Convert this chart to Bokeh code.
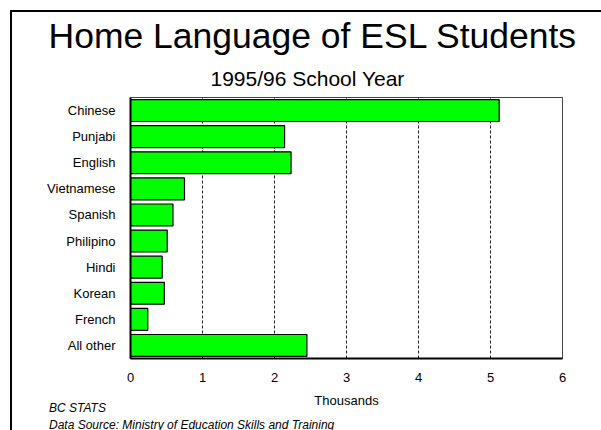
from bokeh.plotting import figure
from bokeh.layouts import column
from bokeh.models import FactorRange, Range1d, FixedTicker, Title, Div, ColumnDataSource
from bokeh.embed import file_html
from bokeh.resources import INLINE

languages = ["Chinese", "Punjabi", "English", "Vietnamese", "Spanish",
             "Philipino", "Hindi", "Korean", "French", "All other"]
thousands = [5.12, 2.14, 2.23, 0.75, 0.59, 0.51, 0.44, 0.47, 0.24, 2.45]
x_ticks = [0, 1, 2, 3, 4, 5, 6]
notes = ["BC STATS", "Data Source: Ministry of Education Skills and Training"]

FONT = "Liberation Sans"
W, H = 585, 398
BL = 118  # frame left offset inside canvas
FRAME_W = 432

src = ColumnDataSource(dict(lang=languages, val=thousands))

p = figure(width=W, height=H, output_backend="svg", toolbar_location=None,
           y_range=FactorRange(*reversed(languages), range_padding=0),
           x_range=Range1d(0, 6),
           min_border_left=BL, min_border_right=W - BL - FRAME_W,
           min_border_top=85, min_border_bottom=51)

p.hbar(y="lang", right="val", left=0, height=0.84, source=src,
       fill_color="#00ff00", line_color="black", line_width=1.2)

p.outline_line_color = "#444444"
p.outline_line_width = 1

p.xaxis.ticker = FixedTicker(ticks=x_ticks)
p.xaxis.major_tick_line_color = None
p.xaxis.minor_tick_line_color = None
p.xaxis.axis_line_color = "black"
p.xaxis.axis_line_width = 2
p.xaxis.major_label_text_font = FONT
p.xaxis.major_label_text_font_size = "13px"
p.xaxis.major_label_text_color = "black"
p.xaxis.major_label_standoff = 8
p.xaxis.axis_label = "Thousands"
p.xaxis.axis_label_text_font = FONT
p.xaxis.axis_label_text_font_size = "13px"
p.xaxis.axis_label_text_font_style = "normal"
p.xaxis.axis_label_text_color = "black"
p.xaxis.axis_label_standoff = 8

p.yaxis.major_tick_line_color = None
p.yaxis.minor_tick_line_color = None
p.yaxis.axis_line_color = "black"
p.yaxis.axis_line_width = 2
p.yaxis.major_label_text_font = FONT
p.yaxis.major_label_text_font_size = "13px"
p.yaxis.major_label_text_color = "black"
p.yaxis.major_label_standoff = 9

p.ygrid.grid_line_color = None
p.xgrid.grid_line_color = "#222222"
p.xgrid.grid_line_dash = "3 2"
p.xgrid.grid_line_width = 1

# titles above: first added sits nearest the frame
p.add_layout(Title(text="1995/96 School Year", text_font=FONT, text_font_size="21px",
                   text_font_style="normal", text_color="black", align="left",
                   offset=198 - BL, standoff=15), "above")
p.add_layout(Title(text="Home Language of ESL Students", text_font=FONT,
                   text_font_size="35.5px", text_font_style="normal", text_color="black",
                   text_line_height=0.9,
                   align="left", offset=36 - BL, standoff=3), "above")

note_div = Div(text="<br>".join(f"<i>{n}</i>" for n in notes), width=W, height=30,
               styles={"font-family": FONT, "font-size": "12px", "line-height": "17px",
                       "color": "black", "padding-left": "32px",
                       "margin-top": "-10px", "white-space": "nowrap"})

page = column(p, note_div, spacing=0)
page.styles = {"border-left": "2px solid black", "border-top": "2px solid black",
               "margin-left": "10px", "margin-top": "10px", "margin-bottom": "-8px"}

open("out.html", "w").write(file_html(page, INLINE))
